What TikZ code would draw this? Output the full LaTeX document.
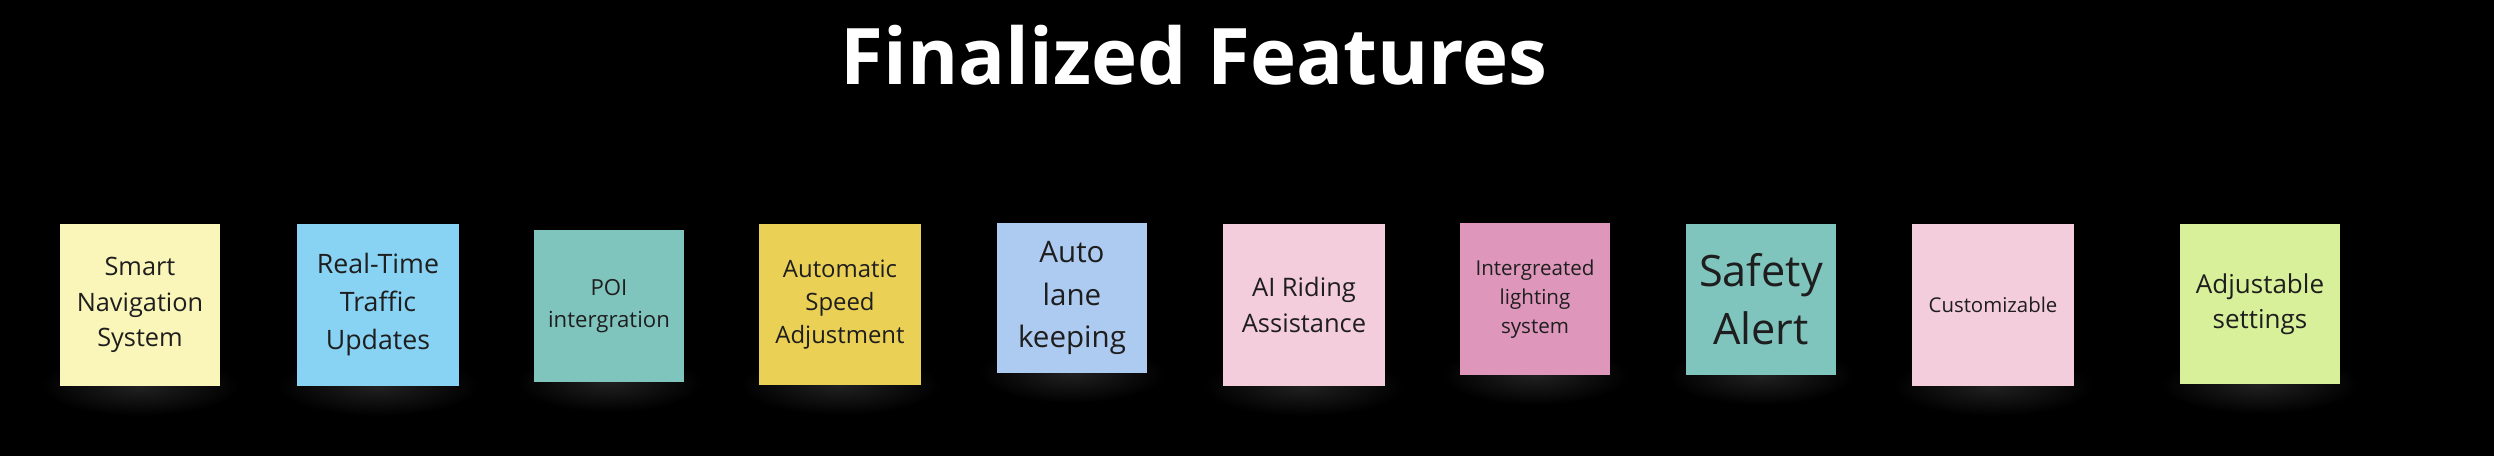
\documentclass[tikz,border=0pt]{standalone}
\usepackage{fontspec}
\setmainfont{Open Sans}
\usepackage{tikz}
\usepackage{xcolor}

\definecolor{inktext}{RGB}{30,30,30}
\definecolor{paleyellow}{RGB}{250,245,185}
\definecolor{skyblue}{RGB}{136,210,243}
\definecolor{tealnote}{RGB}{128,196,190}
\definecolor{mustard}{RGB}{234,208,85}
\definecolor{lightblue}{RGB}{173,202,240}
\definecolor{palepink}{RGB}{244,205,220}
\definecolor{rosenote}{RGB}{222,151,187}
\definecolor{limenote}{RGB}{217,240,154}

\begin{document}
\begin{tikzpicture}[x=0.01cm,y=-0.01cm,
    note/.style={inner sep=0pt, align=center, text=inktext},
    heading/.style={text=white, font=\fontsize{22.2}{27}\selectfont\bfseries, anchor=base}]
    \fill [black] (0,0) rectangle (2494,456);
    \useasboundingbox (0,0) rectangle (2494,456);
    \node[heading] (title) at (1194,85) {Finalized Features};

    % soft shadows under the notes
    \foreach \cx/\by/\w in {140/386/160, 378/386/162, 609/382/150, 840/385/161, 1072/373/150,
                            1304/386/162, 1535/375/150, 1761/375/150, 1993/386/162, 2260/384/160}
        \shade [inner color=black!87, outer color=black] (\cx,\by) ellipse [x radius=0.62*\w, y radius=30];

    \node[note, fill=paleyellow, minimum width=1.6cm, minimum height=1.62cm,
          font=\fontsize{7.2}{10.2}\selectfont] (smart) at (140,305) {Smart\\Navigation\\System};
    \node[note, fill=skyblue, minimum width=1.62cm, minimum height=1.62cm,
          font=\fontsize{7.6}{10.8}\selectfont] (traffic) at (378,305) {Real-Time\\Traffic\\Updates};
    \node[note, fill=tealnote, minimum width=1.5cm, minimum height=1.52cm,
          font=\fontsize{6.3}{9.1}\selectfont] (poi) at (609,306) {POI\\intergration};
    \node[note, fill=mustard, minimum width=1.61cm, minimum height=1.61cm,
          font=\fontsize{6.8}{9.4}\selectfont] (speed) at (840,304.5) {Automatic\\Speed\\Adjustment};
    \node[note, fill=lightblue, minimum width=1.5cm, minimum height=1.5cm,
          font=\fontsize{8.4}{12}\selectfont] (lane) at (1072,298) {Auto\\lane\\keeping};
    \node[note, fill=palepink, minimum width=1.62cm, minimum height=1.62cm,
          font=\fontsize{7.25}{10}\selectfont] (riding) at (1304,305) {AI Riding\\Assistance};
    \node[note, fill=rosenote, minimum width=1.5cm, minimum height=1.52cm,
          font=\fontsize{5.85}{8.3}\selectfont] (lighting) at (1535,299) {Intergreated\\lighting\\system};
    \node[note, fill=tealnote, minimum width=1.5cm, minimum height=1.51cm,
          font=\fontsize{12.3}{16.5}\selectfont] (safety) at (1761,299.5) {Safety\\Alert};
    \node[note, fill=palepink, minimum width=1.62cm, minimum height=1.62cm,
          font=\fontsize{5.8}{9}\selectfont] (custom) at (1993,305) {Customizable};
    \node[note, fill=limenote, minimum width=1.6cm, minimum height=1.6cm,
          font=\fontsize{7.4}{10}\selectfont] (settings) at (2260,304) {Adjustable\\settings};
\end{tikzpicture}
\end{document}
